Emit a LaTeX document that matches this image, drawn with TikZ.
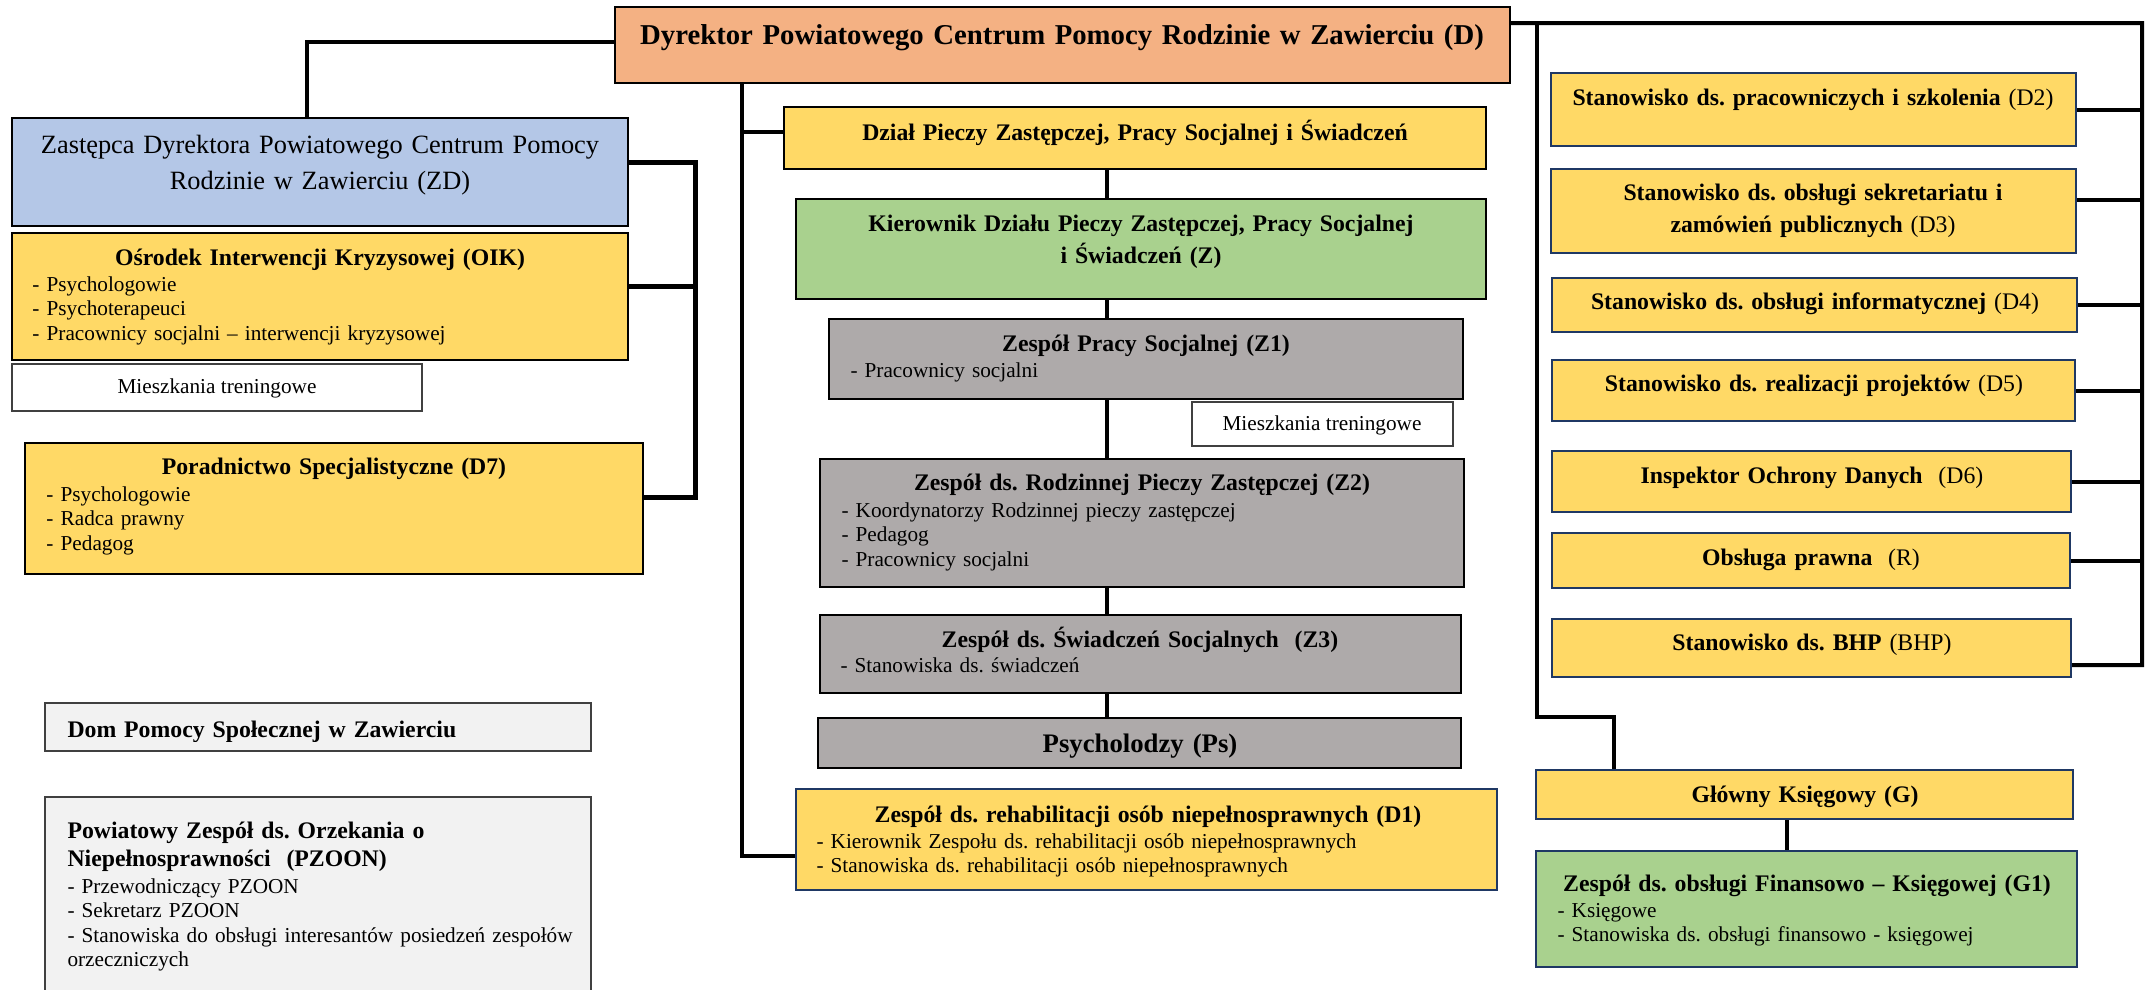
\documentclass[tikz,border=0pt]{standalone}
\usepackage{fontspec}
\setmainfont{Liberation Serif}
\usetikzlibrary{fit}

\definecolor{cPom}{HTML}{F4B183}
\definecolor{cNieb}{HTML}{B4C7E7}
\definecolor{cZol}{HTML}{FFD966}
\definecolor{cZiel}{HTML}{A9D18E}
\definecolor{cSzary}{HTML}{AEAAAA}
\definecolor{cJasny}{HTML}{F2F2F2}
\definecolor{cGran}{HTML}{1F3864}

\newcommand\fontDyr{\fontsize{11.5pt}{14pt}\selectfont\bfseries}
\newcommand\fontZast{\fontsize{10.55pt}{14.4pt}\selectfont}
\newcommand\fontTyt{\fontsize{9.5pt}{12.8pt}\selectfont\bfseries}
\newcommand\fontPs{\fontsize{10.7pt}{13pt}\selectfont\bfseries}
\newcommand\fontPoz{\fontsize{8.5pt}{9.8pt}\selectfont}
\frenchspacing

\begin{document}
\begin{tikzpicture}[x=0.4pt, y=-0.4pt,
    box/.style={draw=black, line width=0.8pt, inner sep=0pt},
    nbox/.style={box, draw=cGran},
    gbox/.style={box, draw=black!75, line width=1pt},
    lin/.style={line width=1.6pt},
    tyt/.style={font=\fontTyt, anchor=base, inner sep=0pt, align=center, text width=250pt},
    poz/.style={font=\fontPoz, anchor=base west, inner sep=0pt, align=left, text width=230pt}]
    \useasboundingbox (0,0) rectangle (2154,989);

    % dyrektor i zastepca
    \node[box, fill=cPom, fit={(615,7) (1510,83)}] (D) {};
    \node[box, fill=cNieb, fit={(12,118) (628,226)}] (ZD) {};
    \node[box, fill=cZol, fit={(12,233) (628,360)}] (OIK) {};
    \node[gbox, fill=white, fit={(12,364) (422,411)}] (MT1) {};
    \node[box, fill=cZol, fit={(25,443) (643,574)}] (D7) {};
    \node[gbox, fill=cJasny, fit={(45,703) (591,751)}] (DPS) {};
    \node[gbox, fill=cJasny, fit={(45,797) (591,1010)}] (PZ) {};

    % srodkowa kolumna
    \node[box, fill=cZol, fit={(784,107) (1486,169)}] (DPZ) {};
    \node[box, fill=cZiel, fit={(796,199) (1486,299)}] (Z) {};
    \node[box, fill=cSzary, fit={(829,319) (1463,399)}] (Z1) {};
    \node[gbox, fill=white, fit={(1192,402) (1453,446)}] (MT2) {};
    \node[box, fill=cSzary, fit={(820,459) (1464,587)}] (Z2) {};
    \node[box, fill=cSzary, fit={(820,615) (1461,693)}] (Z3) {};
    \node[box, fill=cSzary, fit={(818,718) (1461,768)}] (Ps) {};
    \node[nbox, fill=cZol, fit={(796,789) (1497,890)}] (D1) {};

    % prawa kolumna
    \node[nbox, fill=cZol, fit={(1551,73) (2076,146)}] (D2) {};
    \node[nbox, fill=cZol, fit={(1551,169) (2076,253)}] (D3) {};
    \node[nbox, fill=cZol, fit={(1552,278) (2077,332)}] (D4) {};
    \node[nbox, fill=cZol, fit={(1552,360) (2075,421)}] (D5) {};
    \node[nbox, fill=cZol, fit={(1552,451) (2071,512)}] (D6) {};
    \node[nbox, fill=cZol, fit={(1552,533) (2070,588)}] (R) {};
    \node[nbox, fill=cZol, fit={(1552,619) (2071,677)}] (BHP) {};
    \node[nbox, fill=cZol, fit={(1536,770) (2073,819)}] (G) {};
    \node[nbox, fill=cZiel, fit={(1536,851) (2077,967)}] (G1) {};

    % polaczenia
    \coordinate (zd) at ([xshift=-5.2pt]ZD.north);
    \coordinate (lm) at ([xshift=51.2pt]D.south west);
    \coordinate (os) at (1107,0);
    \coordinate (rp) at (2142,23);
    \coordinate (lp) at (1537,23);
    \coordinate (gk) at ([xshift=-7pt]G.south);

    \draw[lin] ([yshift=1.2pt]D.west) -| (zd);
    \draw[lin, line width=2pt] ([yshift=4pt]ZD.east) -- ++(66,0) |- ([yshift=4.6pt]D7.east);
    \draw[lin, line width=2pt] ([yshift=4.2pt]OIK.east) -- ++(66,0);
    \draw[lin] (lm) |- ([yshift=-6.6pt]D1.west);
    \draw[lin] ([yshift=2.4pt]DPZ.west) -- ++(-41,0);
    \foreach \a/\b in {DPZ/Z, Z/Z1, Z1/Z2, Z2/Z3, Z3/Ps}
        \draw[lin] (\a.south -| os) -- (\b.north -| os);
    \draw[lin] ([yshift=8.8pt]D.east) -- (rp) |- ([yshift=-6.8pt]BHP.east);
    \foreach \n in {D2, D4, D5, D6, R}
        \draw[lin] (\n.east) -- (\n.east -| rp);
    \draw[lin] ([yshift=4.4pt]D3.east) -- ++(66,0);
    \draw[lin] (lp) -- ++(0,694) -| ([xshift=31.6pt]G.north west);
    \draw[lin] (gk) -- (gk |- G1.north);

    % teksty
    \node[tyt, font=\fontDyr, text width=360pt] (tD) at (1062,44) {Dyrektor Powiatowego Centrum Pomocy Rodzinie w Zawierciu (D)};
    \node[tyt, font=\fontZast, text width=240pt] (tZD) at (320,153) {Zastępca Dyrektora Powiatowego Centrum Pomocy\\Rodzinie w Zawierciu (ZD)};
    \node[tyt] (tOIK) at (320,265) {Ośrodek Interwencji Kryzysowej (OIK)};
    \node[poz] (pOIK) at (32,291) {- Psychologowie\\- Psychoterapeuci\\- Pracownicy socjalni – interwencji kryzysowej};
    \node[font=\fontPoz, inner sep=0pt] (tMT1) at (217,388) {Mieszkania treningowe};
    \node[tyt] (tD7) at (334,474) {Poradnictwo Specjalistyczne (D7)};
    \node[poz] (pD7) at (46,501) {- Psychologowie\\- Radca prawny\\- Pedagog};
    \begin{scope}
        \clip (45,703) rectangle (591,741);
        \node[tyt, anchor=base west, align=left] (tDPS) at (67,737) {Dom Pomocy Społecznej w Zawierciu};
    \end{scope}
    \node[tyt, anchor=base west, align=left] (tPZ) at (67,838) {Powiatowy Zespół ds. Orzekania o\\[-1.6pt]Niepełnosprawności~~(PZOON)};
    \node[poz] (pPZ) at (67,893) {- Przewodniczący PZOON\\- Sekretarz PZOON\\- Stanowiska do obsługi interesantów posiedzeń zespołów\\orzeczniczych};

    \node[tyt] (tDPZ) at (1135,140) {Dział Pieczy Zastępczej, Pracy Socjalnej i Świadczeń};
    \node[tyt] (tZ) at (1141,231) {Kierownik Działu Pieczy Zastępczej, Pracy Socjalnej\\i Świadczeń (Z)};
    \node[tyt] (tZ1) at (1146,351) {Zespół Pracy Socjalnej (Z1)};
    \node[poz] (pZ1) at (850,377) {- Pracownicy socjalni};
    \node[font=\fontPoz, inner sep=0pt] (tMT2) at (1322,425) {Mieszkania treningowe};
    \node[tyt] (tZ2) at (1142,490) {Zespół ds. Rodzinnej Pieczy Zastępczej (Z2)};
    \node[poz] (pZ2) at (841,517) {- Koordynatorzy Rodzinnej pieczy zastępczej\\- Pedagog\\- Pracownicy socjalni};
    \node[tyt] (tZ3) at (1140,647) {Zespół ds. Świadczeń Socjalnych~~(Z3)};
    \node[poz] (pZ3) at (840,672) {- Stanowiska ds. świadczeń};
    \node[tyt, font=\fontPs] (tPs) at (1140,752) {Psycholodzy (Ps)};
    \node[tyt] (tD1) at (1148,822) {Zespół ds. rehabilitacji osób niepełnosprawnych (D1)};
    \node[poz] (pD1) at (816,848) {- Kierownik Zespołu ds. rehabilitacji osób niepełnosprawnych\\- Stanowiska ds. rehabilitacji osób niepełnosprawnych};

    \node[tyt] (tD2) at (1813,105) {Stanowisko ds. pracowniczych i szkolenia \textmd{(D2)}};
    \node[tyt] (tD3) at (1813,200) {Stanowisko ds. obsługi sekretariatu i\\zamówień publicznych \textmd{(D3)}};
    \node[tyt] (tD4) at (1815,309) {Stanowisko ds. obsługi informatycznej \textmd{(D4)}};
    \node[tyt] (tD5) at (1814,391) {Stanowisko ds. realizacji projektów \textmd{(D5)}};
    \node[tyt] (tD6) at (1812,483) {Inspektor Ochrony Danych~~\textmd{(D6)}};
    \node[tyt] (tR) at (1811,565) {Obsługa prawna~~\textmd{(R)}};
    \node[tyt] (tBHP) at (1812,650) {Stanowisko ds. BHP \textmd{(BHP)}};
    \node[tyt] (tG) at (1805,802) {Główny Księgowy (G)};
    \node[tyt] (tG1) at (1807,891) {Zespół ds. obsługi Finansowo – Księgowej (G1)};
    \node[poz] (pG1) at (1557,917) {- Księgowe\\- Stanowiska ds. obsługi finansowo - księgowej};
\end{tikzpicture}
\end{document}
